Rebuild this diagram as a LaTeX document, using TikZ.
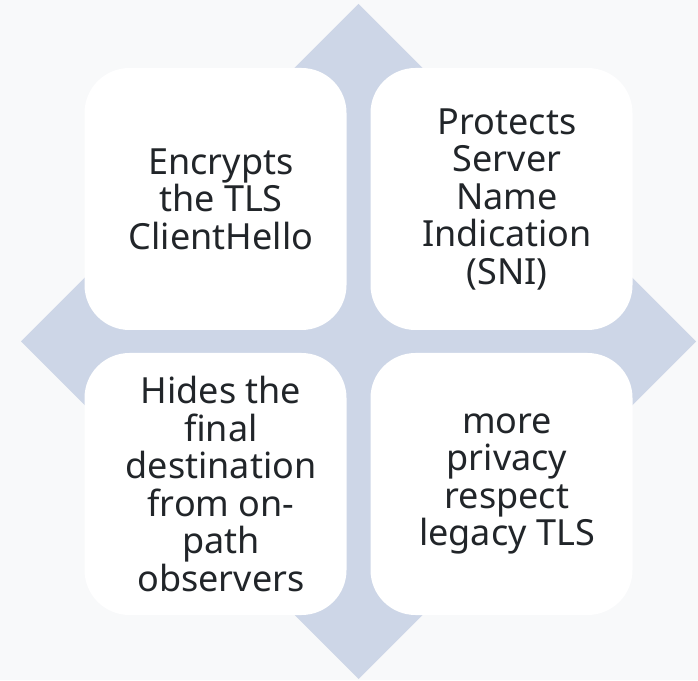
\documentclass[tikz,border=0pt]{standalone}
\usepackage{fontspec}
\setmainfont{Noto Sans}
\usetikzlibrary{shapes}

\definecolor{pageBg}{HTML}{F8F9FA}
\definecolor{diamondFill}{HTML}{CDD6E7}
\definecolor{textDark}{HTML}{212529}

\begin{document}
\begin{tikzpicture}[x = 1pt, y = 1pt]
	\tikzstyle{cardStyle}=[shape = rectangle, rounded corners = 45pt, fill = white, minimum width = 262pt, minimum height = 262pt, inner sep = 0pt]
	\tikzstyle{labelStyle}=[shape = rectangle, inner sep = 0pt, align = center, text = textDark, font = \fontsize{36}{37.5}\selectfont]
	\fill[pageBg] (0, 0) rectangle (698, 680);
	\useasboundingbox (0, 0) rectangle (698, 680);
	\coordinate (top) at (358.5, 676);
	\coordinate (right) at (696, 338.5);
	\coordinate (bottom) at (358.5, 1);
	\coordinate (left) at (21, 338.5);
	\fill[diamondFill] (top) -- (right) -- (bottom) -- (left) -- cycle;
	\node[cardStyle] (c0) at (215.5, 481) {};
	\node[cardStyle] (c1) at (501.5, 481) {};
	\node[cardStyle] (c2) at (215.5, 196) {};
	\node[cardStyle] (c3) at (501.5, 196) {};
	\node[labelStyle] (t0) at ([xshift = 5.5pt]c0.center) {Encrypts\\the TLS\\ClientHello};
	\node[labelStyle] (t1) at ([xshift = 5.5pt]c1.center) {Protects\\Server\\Name\\Indication\\(SNI)};
	\node[labelStyle] (t2) at ([xshift = 5.5pt]c2.center) {Hides the\\final\\destination\\from on-\\path\\observers};
	\node[labelStyle] (t3) at ([xshift = 5.5pt]c3.center) {more\\privacy\\respect\\legacy TLS};
\end{tikzpicture}
\end{document}
